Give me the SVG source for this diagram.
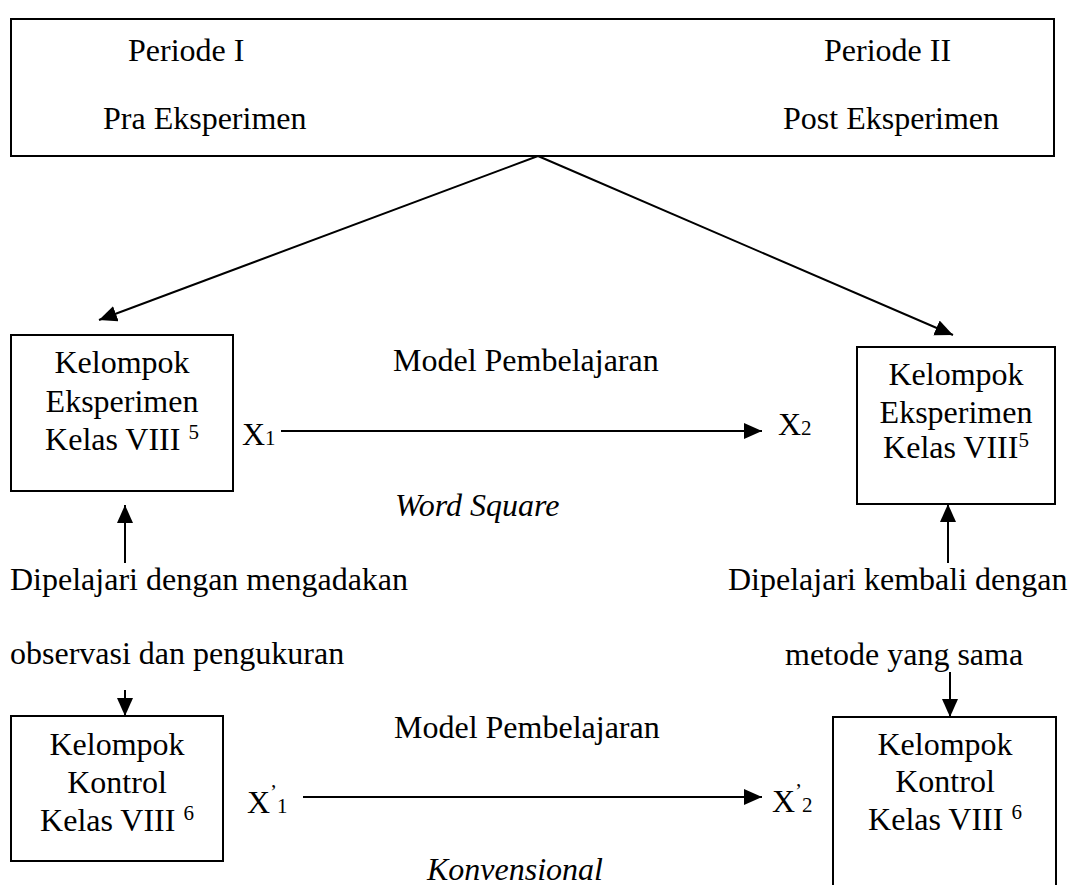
<svg xmlns="http://www.w3.org/2000/svg" width="1070" height="885" viewBox="0 0 1070 885">
<style>
text{font-family:"Liberation Serif","Times New Roman",serif;font-size:32px;fill:#000}
.c{text-anchor:middle}
.i{font-style:italic}
.box{fill:#fff;stroke:#000;stroke-width:2}
.ln{stroke:#000;stroke-width:2;fill:none}
.s{font-size:21px}
</style>
<defs>
<marker id="ah" markerUnits="userSpaceOnUse" markerWidth="20" markerHeight="18" refX="18" refY="8" orient="auto">
<path d="M0,0 L18,8 L0,16 Z" fill="#000"/>
</marker>
</defs>
<rect width="1070" height="885" fill="#fff"/>
<g id="periode">
<rect class="box" x="11" y="19" width="1043" height="137"/>
<text x="128" y="61">Periode I</text>
<text x="103" y="129">Pra Eksperimen</text>
<text x="824" y="61">Periode II</text>
<text x="783" y="129">Post Eksperimen</text>
</g>
<g id="eksperimen1">
<rect class="box" x="11" y="335" width="222" height="156"/>
<text class="c" x="122" y="373">Kelompok</text>
<text class="c" x="122" y="412">Eksperimen</text>
<text class="c" x="122" y="450">Kelas VIII <tspan class="s" dy="-11">5</tspan></text>
</g>
<g id="eksperimen2">
<rect class="box" x="857" y="347" width="198" height="157"/>
<text class="c" x="956" y="385">Kelompok</text>
<text class="c" x="956" y="423">Eksperimen</text>
<text class="c" x="956" y="458">Kelas VIII<tspan class="s" dy="-11">5</tspan></text>
</g>
<g id="kontrol1">
<rect class="box" x="11" y="716" width="212" height="145"/>
<text class="c" x="117" y="755">Kelompok</text>
<text class="c" x="117" y="793">Kontrol</text>
<text class="c" x="117" y="831">Kelas VIII <tspan class="s" dy="-11">6</tspan></text>
</g>
<g id="kontrol2">
<rect class="box" x="833" y="717" width="223" height="190"/>
<text class="c" x="945" y="755">Kelompok</text>
<text class="c" x="945" y="792">Kontrol</text>
<text class="c" x="945" y="830">Kelas VIII <tspan class="s" dy="-11">6</tspan></text>
</g>
<g id="labels">
<text x="393" y="371">Model Pembelajaran</text>
<text class="i" x="395" y="516">Word Square</text>
<text x="394" y="738">Model Pembelajaran</text>
<text class="i" x="427" y="880">Konvensional</text>
<text x="10" y="590">Dipelajari dengan mengadakan</text>
<text x="10" y="664">observasi dan pengukuran</text>
<text x="728" y="590">Dipelajari kembali dengan</text>
<text x="785" y="665">metode yang sama</text>
<text x="242" y="445">X<tspan class="s">1</tspan></text>
<text x="778" y="435">X<tspan class="s">2</tspan></text>
<text x="247" y="813">X<tspan class="s" dy="-14">’</tspan><tspan class="s" dy="14">1</tspan></text>
<text x="772" y="812">X<tspan class="s" dy="-14">’</tspan><tspan class="s" dy="14">2</tspan></text>
</g>
<g id="connectors">
<line class="ln" x1="538" y1="156" x2="99" y2="320" marker-end="url(#ah)"/>
<line class="ln" x1="538" y1="156" x2="953" y2="335" marker-end="url(#ah)"/>
<line class="ln" x1="281" y1="431" x2="762" y2="431" marker-end="url(#ah)"/>
<line class="ln" x1="303" y1="797" x2="762" y2="797" marker-end="url(#ah)"/>
<line class="ln" x1="125" y1="563" x2="125" y2="505" marker-end="url(#ah)"/>
<line class="ln" x1="948" y1="563" x2="948" y2="504" marker-end="url(#ah)"/>
<line class="ln" x1="125" y1="690" x2="125" y2="716" marker-end="url(#ah)"/>
<line class="ln" x1="950" y1="672" x2="950" y2="717" marker-end="url(#ah)"/>
</g>
</svg>
